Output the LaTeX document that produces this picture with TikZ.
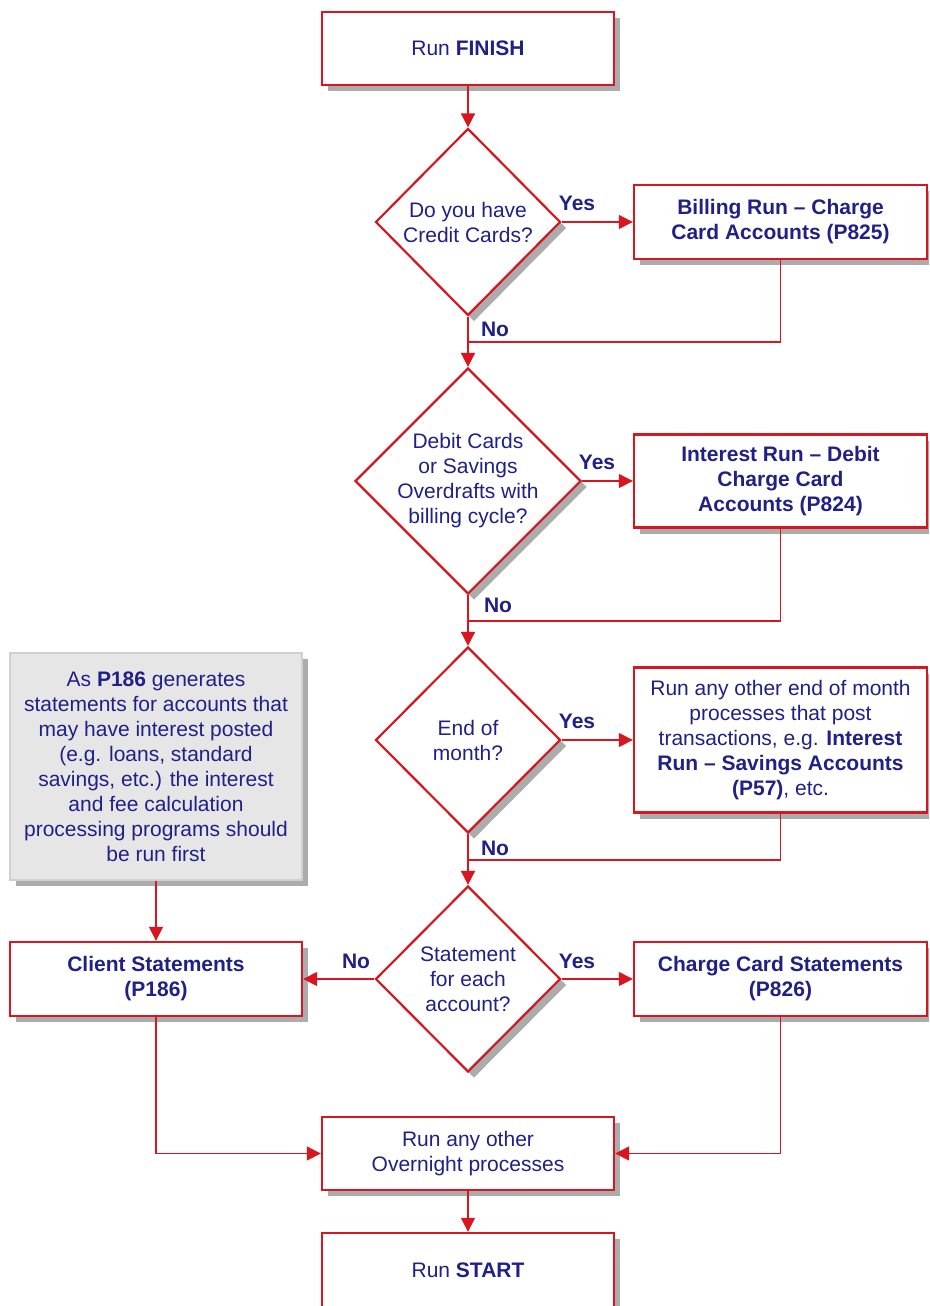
\documentclass[tikz,border=0pt]{standalone}
\usepackage{fontspec}
\setmainfont{Liberation Sans}
\usetikzlibrary{shapes.geometric,shadows,arrows.meta}
\definecolor{fred}{RGB}{215,22,32}
\definecolor{ftext}{RGB}{32,32,135}
\definecolor{fshadow}{RGB}{172,172,172}
\definecolor{fnote}{RGB}{230,230,230}
\definecolor{fnoteborder}{RGB}{208,208,208}
\begin{document}
\begin{tikzpicture}[x=1pt,y=-1pt,
  shadowed/.style={drop shadow={shadow xshift=6pt,shadow yshift=-6pt,fill=fshadow,opacity=1}},
  txt/.style={font=\fontsize{21}{25}\selectfont, text=ftext, align=center},
  box/.style={txt, draw=fred, line width=2.4pt, fill=white, inner sep=0pt, shadowed},
  dia/.style={shape=diamond, draw=fred, line width=2.2pt, fill=white, inner sep=0pt, shadowed},
  dlab/.style={txt},
  notebox/.style={txt, draw=fnoteborder, line width=1.2pt, fill=fnote, inner sep=0pt, shadowed},
  conn/.style={draw=fred, line width=1.6pt},
  arr/.style={conn, -{Triangle[length=14pt,width=14pt]}},
  yn/.style={txt, font=\fontsize{21}{25}\selectfont\bfseries, inner sep=0pt}
]
\useasboundingbox (0,0) rectangle (929,1306);
\clip (0,0) rectangle (929,1306);

% boxes
\node[box, minimum width=292pt, minimum height=73pt] (finish) at (468,48.5) {Run \textbf{FINISH}};
\node[box, minimum width=293pt, minimum height=74pt] (billing) at (780.5,222) {\textbf{Billing Run – Charge}\\\textbf{Card Accounts (P825)}};
\node[box, minimum width=293pt, minimum height=93pt] (interest) at (780.5,481) {\textbf{Interest Run – Debit}\\\textbf{Charge Card}\\\textbf{Accounts (P824)}};
\node[box, minimum width=293pt, minimum height=145pt] (eom) at (780.5,740) {Run any other end of month\\processes that post\\transactions, e.g. \textbf{Interest}\\\textbf{Run – Savings Accounts}\\\textbf{(P57)}, etc.};
\node[box, minimum width=293pt, minimum height=74pt] (cstmt) at (780.5,979) {\textbf{Charge Card Statements}\\\textbf{(P826)}};
\node[box, minimum width=292pt, minimum height=74pt] (client) at (156,979) {\textbf{Client Statements}\\\textbf{(P186)}};
\node[notebox, minimum width=292pt, minimum height=227pt] (note) at (156,766.5) {As \textbf{P186} generates\\statements for accounts that\\may have interest posted\\(e.g. loans, standard\\savings, etc.) the interest\\and fee calculation\\processing programs should\\be run first};
\node[box, minimum width=292pt, minimum height=73pt] (over) at (468,1153.5) {Run any other\\Overnight processes};
\node[box, minimum width=292pt, minimum height=74pt] (start) at (468,1270) {Run \textbf{START}};

% diamonds
\node[dia, minimum width=185pt, minimum height=187pt, label={[dlab]center:{Do you have\\Credit Cards?}}] (d1) at (468,222) {};
\node[dia, minimum width=226pt, minimum height=226pt, label={[dlab]center:{Debit Cards\\or Savings\\Overdrafts with\\billing cycle?}}] (d2) at (468,481) {};
\node[dia, minimum width=185pt, minimum height=186pt, label={[dlab]center:{End of\\month?}}] (d3) at (468,740) {};
\node[dia, minimum width=185pt, minimum height=186pt, label={[dlab]center:{Statement\\for each\\account?}}] (d4) at (468,979) {};

% junctions
\coordinate (j1) at (468,342);
\coordinate (j2) at (468,621);
\coordinate (j3) at (468,860);

% connectors
\draw[arr] (finish.south) -- (d1.north);
\draw[arr] (d1.east) -- (billing.west);
\draw[conn] (billing.south) |- (j1);
\draw[arr] (d1.south) -- (d2.north);
\draw[arr] (d2.east) -- (interest.west);
\draw[conn] (interest.south) |- (j2);
\draw[arr] (d2.south) -- (d3.north);
\draw[arr] (d3.east) -- (eom.west);
\draw[conn] (eom.south) |- (j3);
\draw[arr] (d3.south) -- (d4.north);
\draw[arr] (d4.east) -- (cstmt.west);
\draw[arr] (d4.west) -- (client.east);
\draw[arr] (note.south) -- (client.north);
\draw[arr] (client.south) |- (over.west);
\draw[arr] (cstmt.south) |- (over.east);
\draw[arr] (over.south) -- (start.north);

% labels
\node[yn] (y1) at (577,203) {Yes};
\node[yn] (n1) at (495,329) {No};
\node[yn] (y2) at (597,462) {Yes};
\node[yn] (n2) at (498,605) {No};
\node[yn] (y3) at (577,721) {Yes};
\node[yn] (n3) at (495,848) {No};
\node[yn] (y4) at (577,961) {Yes};
\node[yn] (n4) at (356,961) {No};
\end{tikzpicture}
\end{document}
